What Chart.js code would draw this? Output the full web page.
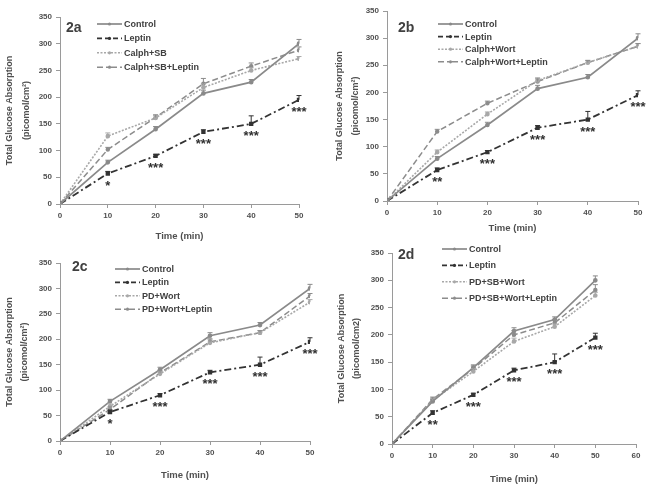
<!DOCTYPE html>
<html>
<head>
<meta charset="utf-8">
<script src="https://cdn.jsdelivr.net/npm/chart.js@4.4.0/dist/chart.umd.min.js"></script>
<style>
  body { margin: 0; background: #fff; width: 653px; height: 492px; position: relative; overflow: hidden; }
  .panel { position: absolute; }
</style>
</head>
<body>
<div class="panel" style="left:0;top:0;width:326px;height:242px"><canvas id="c2a"></canvas></div>
<div class="panel" style="left:326px;top:0;width:327px;height:242px"><canvas id="c2b"></canvas></div>
<div class="panel" style="left:0;top:242px;width:326px;height:250px"><canvas id="c2c"></canvas></div>
<div class="panel" style="left:326px;top:242px;width:327px;height:250px"><canvas id="c2d"></canvas></div>
<script>
// Data
const time = [0, 10, 20, 30, 40, 50];
const yTicksMax = 350;

const controlVals = [0, 78, 140, 207, 228, 300];
const controlErr  = [0, 4, 5, 6, 5, 8];
const leptinVals  = [0, 57, 90, 135, 150, 195];
const leptinErr   = [0, 4, 3, 4, 15, 8];

// 2a
const calphSbVals    = [0, 127, 161, 218, 250, 272];
const calphSbErr     = [0, 6, 5, 7, 5, 4];
const calphSbLepVals = [0, 102, 162, 225, 258, 288];
const calphSbLepErr  = [0, 4, 5, 10, 6, 6];
// 2b
const calphWortVals    = [0, 90, 160, 222, 255, 285];
const calphWortErr     = [0, 4, 4, 5, 4, 5];
const calphWortLepVals = [0, 128, 180, 220, 255, 285];
const calphWortLepErr  = [0, 4, 4, 5, 4, 5];
// 2c
const pdWortVals    = [0, 68, 132, 193, 213, 273];
const pdWortErr     = [0, 5, 5, 6, 4, 5];
const pdWortLepVals = [0, 62, 134, 195, 213, 285];
const pdWortLepErr  = [0, 5, 5, 6, 4, 5];
// 2d
const pdSbWortVals    = [0, 80, 133, 188, 215, 272];
const pdSbWortErr     = [0, 4, 5, 6, 5, 6];
const pdSbWortLepVals = [0, 82, 138, 200, 222, 282];
const pdSbWortLepErr  = [0, 4, 5, 8, 6, 10];

const starsA = ['', '*', '***', '***', '***', '***'];
const starsB = ['', '**', '***', '***', '***', '***'];

const FONT = '"Liberation Sans", Arial, sans-serif';
const TXT = '#505050';

function pts(vals) {
  return vals.map((v, i) => ({ x: time[i], y: v }));
}

function makeSets(labels, combo1, err1, combo2, err2, stars) {
  return [
    { label: labels[0], data: pts(controlVals), err: controlErr, borderColor: '#8a8a8a', backgroundColor: '#8a8a8a', borderWidth: 1.7, pointRadius: 1.5 },
    { label: labels[1], data: pts(leptinVals), err: leptinErr, stars: stars, borderColor: '#333', backgroundColor: '#333', borderWidth: 1.8, borderDash: [7, 3, 2, 3], legendDash: [5, 3], pointStyle: 'rect', pointRadius: 1.8 },
    { label: labels[2], data: pts(combo1), err: err1, borderColor: '#a8a8a8', backgroundColor: '#a8a8a8', borderWidth: 1.6, borderDash: [2, 1.5], pointRadius: 1.5 },
    { label: labels[3], data: pts(combo2), err: err2, borderColor: '#8c8c8c', backgroundColor: '#8c8c8c', borderWidth: 1.5, borderDash: [6, 3], legendDash: [6, 3, 2, 3], pointRadius: 1.5 }
  ];
}

const extras = {
  id: 'extras',
  afterDatasetsDraw(chart, args, o) {
    const ctx = chart.ctx, xs = chart.scales.x, ys = chart.scales.y;
    chart.data.datasets.forEach(ds => {
      ctx.save();
      ctx.strokeStyle = ds.borderColor;
      ctx.lineWidth = 1;
      ds.data.forEach((p, j) => {
        const e = ds.err[j];
        if (!e) return;
        const px = xs.getPixelForValue(p.x);
        const p0 = ys.getPixelForValue(p.y), p1 = ys.getPixelForValue(p.y + e);
        ctx.beginPath();
        ctx.moveTo(px, p0); ctx.lineTo(px, p1);
        ctx.moveTo(px - 2.5, p1); ctx.lineTo(px + 2.5, p1);
        ctx.stroke();
      });
      if (ds.stars) {
        ctx.fillStyle = '#303030';
        ctx.font = 'bold 13px ' + FONT;
        ctx.textAlign = 'center';
        ctx.textBaseline = 'top';
        ds.data.forEach((p, j) => {
          if (!ds.stars[j]) return;
          ctx.fillText(ds.stars[j], xs.getPixelForValue(p.x), ys.getPixelForValue(p.y) + 6);
        });
      }
      ctx.restore();
    });
  },
  afterDraw(chart, args, o) {
    const ctx = chart.ctx;
    ctx.save();
    // panel tag
    ctx.fillStyle = '#404040';
    ctx.font = 'bold 14px ' + FONT;
    ctx.textAlign = 'left';
    ctx.textBaseline = 'middle';
    ctx.fillText(o.tag, o.tagX, o.tagY);
    // legend
    ctx.font = 'bold 9px ' + FONT;
    chart.data.datasets.forEach((ds, i) => {
      const y = o.legY + i * o.legStep;
      ctx.strokeStyle = ds.borderColor;
      ctx.lineWidth = ds.borderWidth;
      ctx.setLineDash(ds.legendDash || ds.borderDash || []);
      ctx.beginPath();
      ctx.moveTo(o.legX, y); ctx.lineTo(o.legX + 25, y);
      ctx.stroke();
      ctx.setLineDash([]);
      ctx.fillStyle = ds.borderColor;
      ctx.beginPath();
      ctx.arc(o.legX + 12.5, y, 1.6, 0, Math.PI * 2);
      ctx.fill();
      ctx.fillStyle = '#404040';
      ctx.fillText(ds.label, o.legX + 27, y + 0.5);
    });
    ctx.restore();
  }
};

function makeChart(id, cfg) {
  new Chart(document.getElementById(id), {
    type: 'line',
    data: { datasets: cfg.sets },
    plugins: [extras],
    options: {
      responsive: true,
      maintainAspectRatio: false,
      animation: false,
      layout: { padding: { left: 0, top: cfg.top, right: cfg.right, bottom: 0 } },
      plugins: {
        legend: { display: false },
        tooltip: { enabled: false },
        extras: cfg.extras
      },
      scales: {
        x: {
          type: 'linear', min: 0, max: cfg.xMax,
          afterFit: s => { s.height = cfg.below; },
          border: { color: '#9a9a9a', width: 1 },
          grid: { drawOnChartArea: false, tickLength: 4, color: '#9a9a9a' },
          ticks: { stepSize: 10, color: TXT, padding: 3, font: { family: FONT, size: 8, weight: 'bold' } },
          title: { display: true, text: 'Time (min)', color: TXT, padding: { top: 0, bottom: cfg.xtPad }, font: { family: FONT, size: 9.5, weight: 'bold' } }
        },
        y: {
          min: 0, max: yTicksMax,
          afterFit: s => { s.width = cfg.left; },
          border: { color: '#9a9a9a', width: 1 },
          grid: { drawOnChartArea: false, tickLength: 4, color: '#9a9a9a' },
          ticks: { stepSize: 50, color: TXT, padding: 4, font: { family: FONT, size: 8, weight: 'bold' } },
          title: { display: true, text: ['Total Glucose Absorption', cfg.unit], color: TXT, padding: { top: cfg.ytPad, bottom: 0 }, font: { family: FONT, size: 9, weight: 'bold', lineHeight: cfg.ytLh } }
        }
      }
    }
  });
}

makeChart('c2a', {
  sets: makeSets(['Control', 'Leptin', 'Calph+SB', 'Calph+SB+Leptin'], calphSbVals, calphSbErr, calphSbLepVals, calphSbLepErr, starsA),
  xMax: 50, top: 17, right: 27, left: 60, below: 38, xtPad: 0, ytPad: 1.5, ytLh: '17px', unit: '(picomol/cm²)',
  extras: { tag: '2a', tagX: 66, tagY: 28, legX: 97, legY: 24, legStep: 14.4 }
});
makeChart('c2b', {
  sets: makeSets(['Control', 'Leptin', 'Calph+Wort', 'Calph+Wort+Leptin'], calphWortVals, calphWortErr, calphWortLepVals, calphWortLepErr, starsB),
  xMax: 50, top: 11, right: 15, left: 61, below: 41, xtPad: 8, ytPad: 6, ytLh: '15.5px', unit: '(picomol/cm²)',
  extras: { tag: '2b', tagX: 72, tagY: 28, legX: 112, legY: 24, legStep: 12.6 }
});
makeChart('c2c', {
  sets: makeSets(['Control', 'Leptin', 'PD+Wort', 'PD+Wort+Leptin'], pdWortVals, pdWortErr, pdWortLepVals, pdWortLepErr, starsA),
  xMax: 50, top: 21, right: 16, left: 60, below: 51, xtPad: 11, ytPad: 2, ytLh: '15px', unit: '(picomol/cm²)',
  extras: { tag: '2c', tagX: 72, tagY: 25, legX: 115, legY: 27, legStep: 13.4 }
});
makeChart('c2d', {
  sets: makeSets(['Control', 'Leptin', 'PD+SB+Wort', 'PD+SB+Wort+Leptin'], pdSbWortVals, pdSbWortErr, pdSbWortLepVals, pdSbWortLepErr, starsB),
  xMax: 60, top: 11, right: 17, left: 66, below: 48, xtPad: 7, ytPad: 8, ytLh: '15px', unit: '(picomol/cm2)',
  extras: { tag: '2d', tagX: 72, tagY: 13, legX: 116, legY: 7, legStep: 16.4 }
});
</script>
</body>
</html>
